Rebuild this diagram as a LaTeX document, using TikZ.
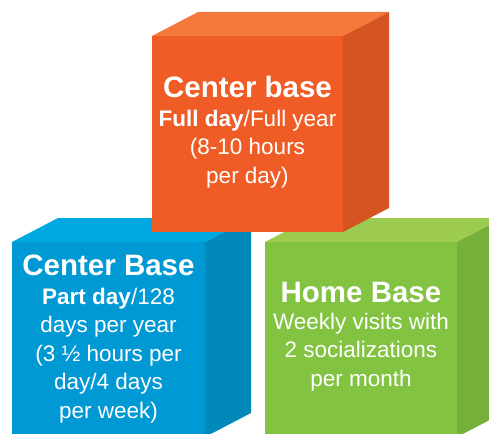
\documentclass[tikz,border=0pt]{standalone}
\usepackage{fontspec}
\setmainfont{Liberation Sans}
\usepackage{tikz}

\definecolor{orangefront}{RGB}{240,92,37}
\definecolor{orangetop}{RGB}{243,122,58}
\definecolor{orangeside}{RGB}{214,84,33}
\definecolor{bluefront}{RGB}{0,153,212}
\definecolor{bluetop}{RGB}{0,168,225}
\definecolor{blueside}{RGB}{0,137,185}
\definecolor{greenfront}{RGB}{130,195,65}
\definecolor{greentop}{RGB}{157,203,80}
\definecolor{greenside}{RGB}{117,176,58}

\tikzset{
  cubetitle/.style={text=white, inner sep=0pt, anchor=base, font=\bfseries\fontsize{29.5}{30}\selectfont},
  cubetext/.style={text=white, inner sep=0pt, anchor=base, align=center, font=\fontsize{22.5}{28.5}\selectfont}
}

\begin{document}
\begin{tikzpicture}[x=1pt,y=-1pt]
			\useasboundingbox (0,0) rectangle (489,433);
			\clip (0,0) rectangle (489,433);
			% green cube
			\fill[greenfront] (265,242) rectangle (457,437);
			\fill[greentop] (265,242) -- (457,242) -- (503,218) -- (311,218) -- cycle;
			\fill[greenside] (457,242) -- (503,218) -- (503,413) -- (457,437) -- cycle;
			% blue cube
			\fill[bluefront] (12,242) rectangle (205,437);
			\fill[bluetop] (12,242) -- (205,242) -- (251,218) -- (58,218) -- cycle;
			\fill[blueside] (205,242) -- (251,218) -- (251,413) -- (205,437) -- cycle;
			% orange cube
			\fill[orangefront] (152,36) rectangle (343,232);
			\fill[orangetop] (152,36) -- (343,36) -- (389,12) -- (198,12) -- cycle;
			\fill[orangeside] (343,36) -- (389,12) -- (389,208) -- (343,232) -- cycle;

			% texts (body nodes sit on their last baseline)
			\node[cubetitle] (ctitle) at (247.5,97) {Center base};
			\node[cubetext] (ctext) at (247.5,183) {\textbf{Full day}/Full year\\(8-10 hours\\per day)};
			\node[cubetitle] (btitle) at (108.5,275) {Center Base};
			\node[cubetext] (btext) at (108.5,418) {\textbf{Part day}/128\\days per year\\(3 ½ hours per\\day/4 days\\per week)};
			\node[cubetitle] (htitle) at (361,302) {Home Base};
			\node[cubetext] (htext) at (361,386) {Weekly visits with\\2 socializations\\per month};
		\end{tikzpicture}
\end{document}
